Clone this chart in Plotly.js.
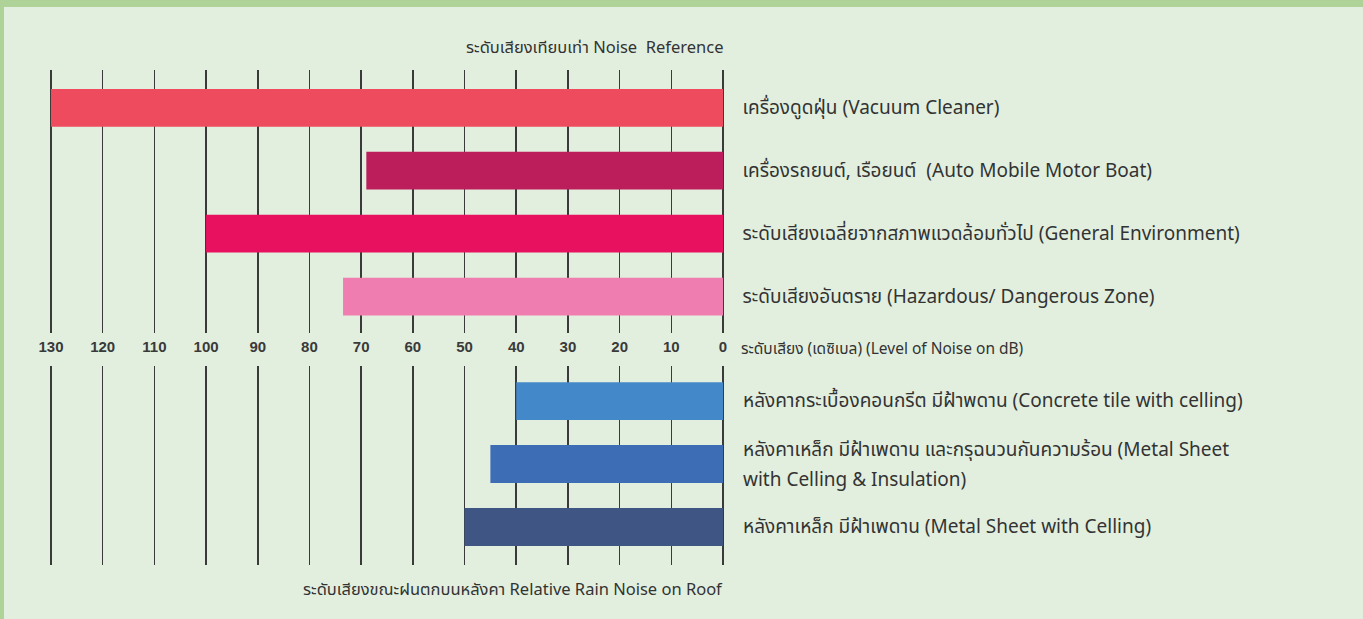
<!DOCTYPE html>
<html>
<head>
<meta charset="utf-8">
<script src="https://cdn.plot.ly/plotly-3.0.1.min.js"></script>
<style>
html,body{margin:0;padding:0;background:#e2efdf;}
#chart{width:1363px;height:619px;}
</style>
</head>
<body>
<div id="chart"></div>
<script>
// ---- data ----
const refCategories = [
  "เครื่องดูดฝุ่น (Vacuum Cleaner)",
  "เครื่องรถยนต์, เรือยนต์  (Auto Mobile Motor Boat)",
  "ระดับเสียงเฉลี่ยจากสภาพแวดล้อมทั่วไป (General Environment)",
  "ระดับเสียงอันตราย (Hazardous/ Dangerous Zone)"
];
const refValues = [130, 69, 100, 73.5];

const roofCategories = [
  "หลังคากระเบื้องคอนกรีต มีฝ้าพดาน (Concrete tile with celling)",
  "หลังคาเหล็ก มีฝ้าเพดาน และกรุฉนวนกันความร้อน (Metal Sheet<br>with Celling & Insulation)",
  "หลังคาเหล็ก มีฝ้าเพดาน (Metal Sheet with Celling)"
];
const roofValues = [40, 45, 50];

const xTickVals = [0,10,20,30,40,50,60,70,80,90,100,110,120,130];
const xTickText = ["0","10","20","30","40","50","60","70","80","90","100","110","120","130"];

const titleTop = "ระดับเสียงเทียบเท่า Noise  Reference";
const titleBottom = "ระดับเสียงขณะฝนตกบนหลังคา Relative Rain Noise on Roof";
const axisLabel = "ระดับเสียง (เดซิเบล) (Level of Noise on dB)";

// ---- styles ----
const refColors = ["#ee4b5f", "#bc1e5c", "#e8115f", "#ef7db0"];
const roofColors = ["#4388c8", "#3d6db4", "#3f5584"];
const textFont = "Noto Sans Thai, Noto Sans, Liberation Sans, sans-serif";
const gridColor = "#3a3a3a";
const labelFont = {family: textFont, size: 19, color: "#333333"};

const W = 1363, H = 619;
const px = v => v / W;
const py = v => 1 - v / H;

const traces = [
  {
    type: "bar", orientation: "h",
    x: refValues, y: refCategories,
    xaxis: "x", yaxis: "y",
    marker: {color: refColors, line: {width: 0}},
    width: 0.6, hoverinfo: "skip", showlegend: false
  },
  {
    type: "bar", orientation: "h",
    x: roofValues, y: roofCategories,
    xaxis: "x2", yaxis: "y2",
    marker: {color: roofColors, line: {width: 0}},
    width: 0.6, hoverinfo: "skip", showlegend: false
  }
];

const xCommon = {
  range: [130.5, -0.5],
  domain: [px(48.4), px(725.6)],
  tickmode: "array",
  tickvals: xTickVals,
  ticktext: xTickText,
  showgrid: true,
  gridcolor: gridColor,
  gridwidth: 1.6,
  zeroline: false,
  showline: false,
  ticks: "",
  fixedrange: true
};

// labels of the roof rows as annotations (wider line spacing for the 2-line one)
const roofLabelAnns = [];
roofCategories.forEach(cat => {
  const lines = cat.split("<br>");
  const n = lines.length;
  lines.forEach((ln, i) => {
    const shift = n === 1 ? 0 : (i === 0 ? 14 : -16);
    roofLabelAnns.push({
      xref: "x2", yref: "y2", x: 0, y: cat,
      xanchor: "left", yanchor: "middle", xshift: 18, yshift: shift,
      text: ln, showarrow: false, font: labelFont
    });
  });
});

const layout = {
  width: W, height: H,
  margin: {l: 0, r: 0, t: 0, b: 0},
  paper_bgcolor: "#e2efdf",
  plot_bgcolor: "rgba(0,0,0,0)",
  bargap: 0.4,
  xaxis: Object.assign({}, xCommon, {
    anchor: "y",
    side: "bottom",
    showticklabels: true,
    tickfont: {family: "Liberation Sans, Arial, sans-serif", size: 15, color: "#3a3a3a", weight: "bold"},
    ticklabelstandoff: 3
  }),
  xaxis2: Object.assign({}, xCommon, {
    anchor: "y2",
    showticklabels: false
  }),
  yaxis: {
    domain: [py(333), py(70)],
    anchor: "x",
    type: "category",
    categoryorder: "array",
    categoryarray: refCategories,
    range: [3.58, -0.60],
    side: "right",
    showgrid: false, zeroline: false, showline: false, ticks: "",
    tickfont: labelFont,
    ticklabelstandoff: 16,
    fixedrange: true
  },
  yaxis2: {
    domain: [py(565), py(366)],
    anchor: "x2",
    type: "category",
    categoryorder: "array",
    categoryarray: roofCategories,
    range: [2.603, -0.556],
    side: "right",
    showticklabels: false,
    showgrid: false, zeroline: false, showline: false, ticks: "",
    fixedrange: true
  },
  shapes: [
    {type: "rect", xref: "paper", yref: "paper", x0: 0, x1: 1, y0: py(7), y1: 1,
     fillcolor: "#afd299", line: {width: 0}, layer: "below"},
    {type: "rect", xref: "paper", yref: "paper", x0: 0, x1: px(4), y0: 0, y1: 1,
     fillcolor: "#afd299", line: {width: 0}, layer: "below"}
  ],
  annotations: [
    {xref: "paper", yref: "paper", x: px(725), y: py(47), xanchor: "right", yanchor: "middle",
     text: titleTop, showarrow: false,
     font: {family: textFont, size: 16.5, color: "#333333"}},
    {xref: "paper", yref: "paper", x: px(725), y: py(589), xanchor: "right", yanchor: "middle",
     text: titleBottom, showarrow: false,
     font: {family: textFont, size: 16.5, color: "#333333"}},
    {xref: "paper", yref: "paper", x: px(739), y: py(349), xanchor: "left", yanchor: "middle",
     text: axisLabel, showarrow: false,
     font: {family: textFont, size: 15.5, color: "#333333"}}
  ].concat(roofLabelAnns)
};

Plotly.newPlot("chart", traces, layout, {displayModeBar: false, staticPlot: true});
</script>
</body>
</html>
